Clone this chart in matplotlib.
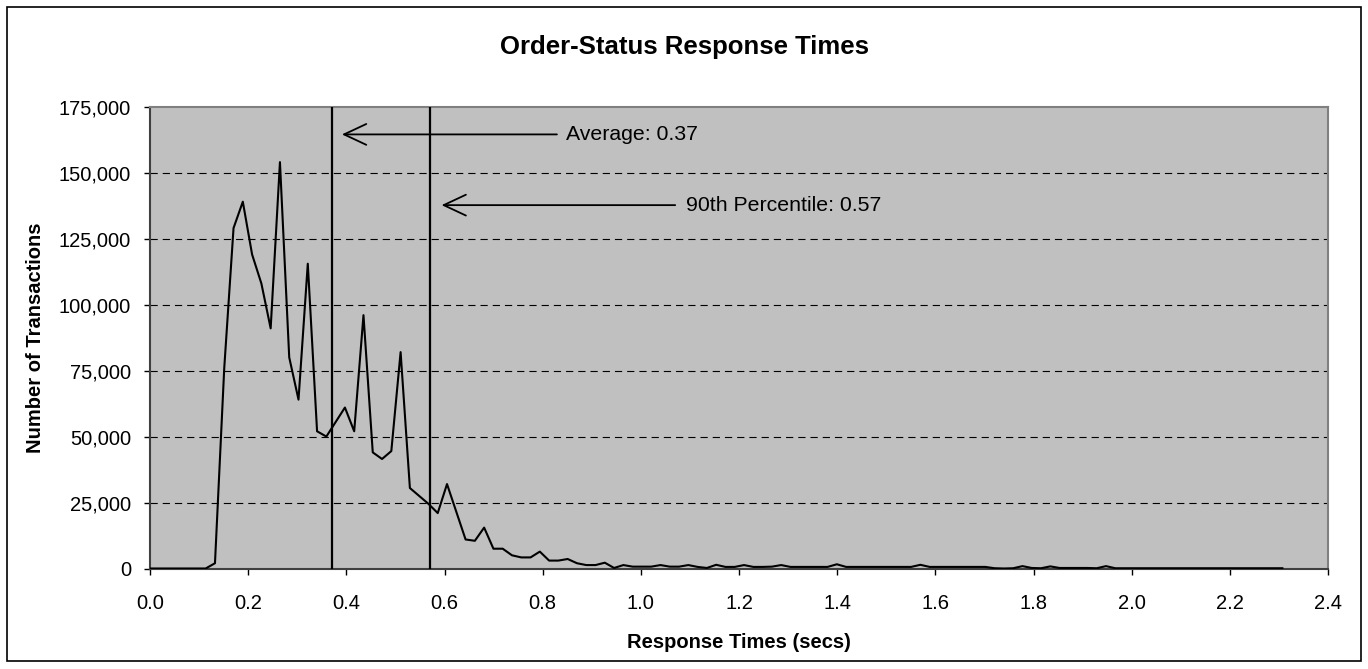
import numpy as np
import matplotlib
matplotlib.use("Agg")
import matplotlib.pyplot as plt
from matplotlib.patches import Rectangle

plt.rcParams['font.family'] = ['Liberation Sans', 'DejaVu Sans']

# transaction counts per response-time bucket
counts = [0, 0, 0, 0, 0, 0, 0, 2000, 76000, 129000,
          139000, 119000, 108000, 91000, 154000, 80000, 64000, 115500, 52000, 50000,
          55500, 61000, 52000, 96000, 44000, 41500, 44500, 82000, 30500, 27500,
          24500, 21000, 32000, 21500, 11000, 10500, 15500, 7500, 7500, 5000,
          4200, 4200, 6400, 3000, 3000, 3600, 2000, 1300, 1300, 2200,
          200, 1300, 700, 700, 700, 1300, 700, 700, 1300, 600,
          200, 1400, 600, 600, 1300, 600, 600, 700, 1300, 600,
          600, 600, 600, 600, 1600, 600, 600, 600, 600, 600,
          600, 600, 600, 1400, 600, 600, 600, 600, 600, 600,
          600, 100, 0, 100, 900, 200, 100, 800, 200, 200,
          200, 200, 100, 900, 100, 100, 100, 100, 100, 100,
          100, 100, 100, 100, 100, 100, 100, 100, 100, 100,
          100, 100, 100]
bucket_width = 0.01891
times = np.arange(len(counts)) * bucket_width

average = 0.37
pct90 = 0.57

xticks = [0.0, 0.2, 0.4, 0.6, 0.8, 1.0, 1.2, 1.4, 1.6, 1.8, 2.0, 2.2, 2.4]
xtick_labels = ['0.0', '0.2', '0.4', '0.6', '0.8', '1.0', '1.2', '1.4', '1.6', '1.8', '2.0', '2.2', '2.4']
yticks = [0, 25000, 50000, 75000, 100000, 125000, 150000, 175000]
ytick_labels = ['0', '25,000', '50,000', '75,000', '100,000', '125,000', '150,000', '175,000']

fig = plt.figure(figsize=(13.68, 6.69), dpi=100)
ax = fig.add_axes([150 / 1368, 1 - 568.5 / 669, 1178 / 1368, 461.8 / 669])
ax.set_facecolor('#C0C0C0')

for y in yticks[1:-1]:
    ax.axhline(y, color='black', lw=0.8, linestyle=(0, (6.5, 4.5)), zorder=1)

ax.plot(times, counts, color='black', lw=1.5, zorder=3)

ax.axvline(average, color='black', lw=1.6, zorder=4)
ax.axvline(pct90, color='black', lw=1.6, zorder=4)

arrow = dict(arrowstyle='->,head_length=1.6,head_width=0.75', color='black', lw=1.3,
             shrinkA=0, shrinkB=0)
ax.annotate('', xy=(0.391, 164500), xytext=(0.829, 164500), arrowprops=arrow, zorder=5)
ax.text(0.847, 164500, 'Average: 0.37', fontsize=15.3, va='center', ha='left')
ax.annotate('', xy=(0.594, 137700), xytext=(1.07, 137700), arrowprops=arrow, zorder=5)
ax.text(1.0915, 137700, '90th Percentile: 0.57', fontsize=15.3, va='center', ha='left')

ax.set_xlim(0, 2.4)
ax.set_ylim(0, 175000)
ax.set_xticks(xticks)
ax.set_xticklabels(xtick_labels, fontsize=14.5)
ax.set_yticks(yticks)
ax.set_yticklabels(ytick_labels, fontsize=14.5)
ax.tick_params(direction='out', length=4.5, width=1, color='black')
ax.tick_params(axis='x', pad=14)
ax.tick_params(axis='y', pad=9)

for s in ['top', 'right']:
    ax.spines[s].set_color('#808080')
    ax.spines[s].set_linewidth(1.5)
for s in ['left', 'bottom']:
    ax.spines[s].set_color('#404040')
    ax.spines[s].set_linewidth(1.5)

ax.set_xlabel('Response Times (secs)', fontsize=14.5, fontweight='bold', labelpad=14)
ax.set_ylabel('Number of Transactions', fontsize=14.5, fontweight='bold', labelpad=10)
fig.text(0.5, 1 - 47 / 669, 'Order-Status Response Times', fontsize=18.5,
         fontweight='bold', ha='center', va='center')

# outer chart border
fig.patches.append(Rectangle((7 / 1368, 8 / 669), 1354 / 1368, 654 / 669,
                             transform=fig.transFigure, fill=False,
                             edgecolor='black', lw=1.2))

fig.savefig('out.png', dpi=100)
